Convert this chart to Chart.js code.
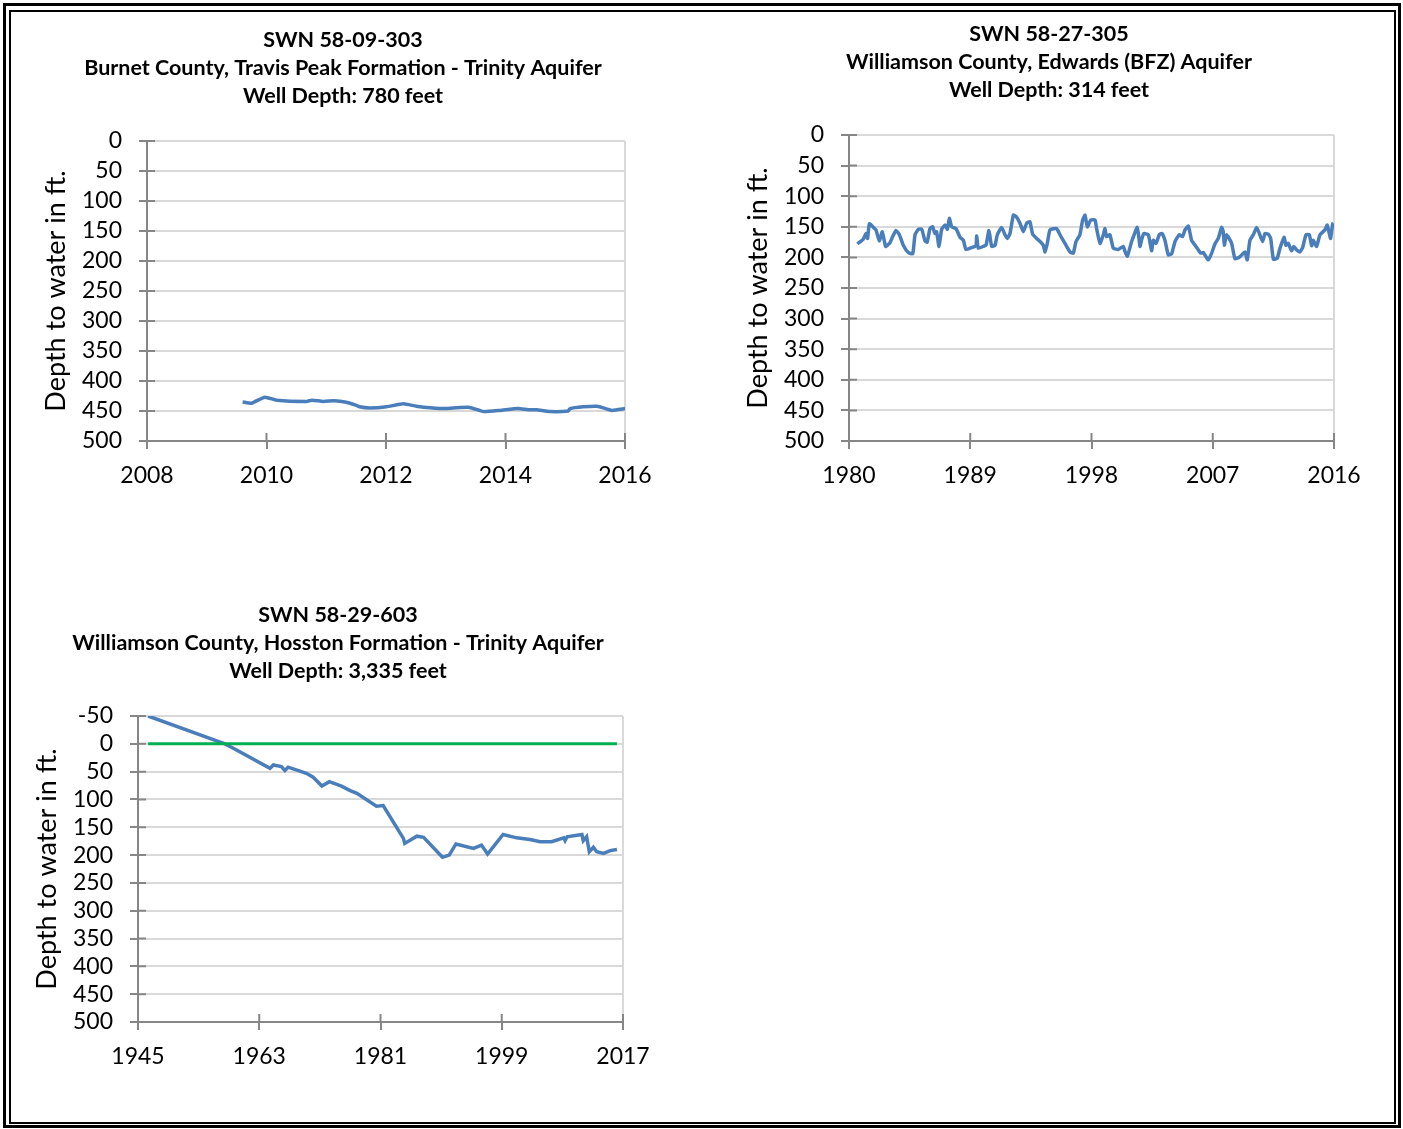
<!DOCTYPE html>
<html>
<head>
<meta charset="utf-8">
<script src="https://cdn.jsdelivr.net/npm/chart.js@4"></script>
<style>
  html, body { margin: 0; padding: 0; background: #fff; }
  body { width: 1403px; height: 1129px; position: relative; overflow: hidden; }
  .frame-out { position: absolute; left: 3px; top: 3px; width: 1392px; height: 1119px; border: 3px solid #000; }
  .frame-in { position: absolute; left: 9px; top: 10px; width: 1383px; height: 1110px; border: 2px solid #000; }
  .box { position: absolute; }
</style>
</head>
<body>
<div class="frame-out"></div>
<div class="frame-in"></div>
<div class="box" style="left:30px; top:20px;"><canvas id="c1" width="626" height="471"></canvas></div>
<div class="box" style="left:732px; top:14px;"><canvas id="c2" width="634" height="477"></canvas></div>
<div class="box" style="left:21px; top:595px;"><canvas id="c3" width="634" height="477"></canvas></div>
<script>
// ---- data: [year, depth to water (ft)] ----
const burnetYears = [2009.6, 2009.75, 2009.97, 2010.17, 2010.67, 2010.76, 2010.95, 2011.12, 2011.26, 2011.4, 2011.56, 2011.73, 2012.01, 2012.29, 2012.51, 2012.9, 2013.13, 2013.4, 2013.63, 2013.91, 2014.21, 2014.38, 2014.52, 2014.74, 2015.05, 2015.08, 2015.3, 2015.53, 2015.61, 2015.78, 2016.0];
const burnetDepth = [435, 437, 427, 432, 434, 432, 434, 433, 434, 437, 443, 445, 443, 438, 442, 446, 445, 444, 451, 449, 446, 448, 448, 451, 450, 446, 443, 442, 444, 449, 446];

const wilsonYears = [1980.62, 1981.06, 1981.26, 1981.38, 1981.51, 1981.81, 1982.0, 1982.25, 1982.47, 1982.72, 1983.04, 1983.24, 1983.49, 1983.74, 1984.03, 1984.4, 1984.73, 1984.9, 1985.15, 1985.4, 1985.64, 1985.8, 1986.01, 1986.21, 1986.38, 1986.5, 1986.68, 1986.88, 1987.13, 1987.3, 1987.45, 1987.62, 1987.94, 1988.24, 1988.49, 1988.68, 1989.1, 1989.42, 1989.48, 1989.6, 1989.97, 1990.17, 1990.39, 1990.59, 1990.84, 1991.01, 1991.33, 1991.58, 1991.75, 1991.95, 1992.2, 1992.4, 1992.69, 1992.94, 1993.19, 1993.43, 1993.63, 1993.93, 1994.18, 1994.42, 1994.55, 1994.72, 1994.92, 1995.41, 1995.66, 1996.03, 1996.4, 1996.65, 1996.85, 1997.14, 1997.34, 1997.52, 1997.69, 1997.94, 1998.26, 1998.38, 1998.63, 1998.88, 1999.0, 1999.12, 1999.37, 1999.62, 1999.99, 2000.36, 2000.48, 2000.66, 2000.98, 2001.4, 2001.6, 2001.72, 2001.89, 2002.22, 2002.46, 2002.59, 2002.79, 2003.03, 2003.23, 2003.45, 2003.7, 2003.95, 2004.2, 2004.52, 2004.76, 2004.94, 2005.19, 2005.43, 2005.75, 2006.1, 2006.3, 2006.5, 2006.67, 2006.92, 2007.16, 2007.41, 2007.66, 2007.78, 2007.86, 2008.03, 2008.4, 2008.65, 2009.02, 2009.39, 2009.56, 2009.76, 2010.01, 2010.26, 2010.46, 2010.7, 2010.88, 2011.12, 2011.3, 2011.5, 2011.79, 2011.99, 2012.29, 2012.43, 2012.6, 2012.85, 2013.02, 2013.23, 2013.47, 2013.67, 2013.92, 2014.17, 2014.34, 2014.46, 2014.71, 2014.96, 2015.33, 2015.5, 2015.65, 2015.75, 2015.9, 2015.95];
const wilsonDepth = [178, 170, 161, 169, 145, 151, 155, 173, 158, 182, 176, 166, 156, 163, 180, 192, 194, 163, 154, 154, 173, 175, 153, 150, 161, 158, 182, 154, 147, 154, 136, 150, 153, 167, 172, 187, 184, 181, 165, 185, 182, 180, 156, 182, 180, 163, 151, 163, 169, 161, 131, 133, 144, 158, 144, 142, 162, 169, 174, 180, 191, 177, 155, 153, 163, 177, 191, 193, 174, 163, 139, 131, 150, 139, 139, 153, 177, 163, 153, 166, 163, 185, 187, 182, 190, 198, 174, 151, 182, 171, 161, 163, 189, 172, 177, 163, 161, 172, 196, 194, 174, 163, 166, 155, 149, 172, 182, 193, 192, 199, 204, 193, 178, 169, 151, 158, 180, 163, 177, 202, 199, 191, 204, 172, 163, 151, 161, 174, 161, 162, 169, 203, 201, 185, 167, 180, 177, 189, 182, 188, 191, 184, 163, 163, 181, 172, 182, 163, 155, 147, 161, 169, 145, 144];

const hosstonYears = [1946.5, 1957.7, 1959.15, 1964.6, 1965.1, 1966.3, 1966.8, 1967.3, 1970.0, 1971.0, 1972.3, 1973.4, 1975.2, 1976.5, 1977.5, 1980.4, 1981.4, 1984.4, 1984.6, 1986.4, 1987.4, 1990.2, 1991.2, 1992.2, 1994.8, 1996.0, 1996.9, 1999.2, 2001.2, 2003.2, 2004.7, 2006.4, 2008.2, 2008.4, 2008.7, 2010.9, 2011.1, 2011.6, 2012.0, 2012.6, 2013.1, 2014.1, 2015.1, 2016.1];
const hosstonDepth = [-50, -1, 8, 44, 38, 41, 48, 42, 53, 60, 76, 68, 76, 84, 89, 112, 111, 170, 179, 166, 168, 204, 200, 180, 188, 182, 198, 163, 169, 172, 176, 176, 169, 174, 167, 163, 174, 167, 194, 186, 194, 197, 192, 190];
const surfaceYears = [1946.5, 2016.1];
const surfaceDepth = [0, 0];

const titles1 = ['SWN 58-09-303', 'Burnet County, Travis Peak Formation - Trinity Aquifer', 'Well Depth: 780 feet'];
const titles2 = ['SWN 58-27-305', 'Williamson County, Edwards (BFZ) Aquifer', 'Well Depth: 314 feet'];
const titles3 = ['SWN 58-29-603', 'Williamson County, Hosston Formation - Trinity Aquifer', 'Well Depth: 3,335 feet'];
const yTitle = 'Depth to water in ft.';

const FONT = 'Lato, Calibri, "Open Sans", sans-serif';
const AXIS = '#868686';
const GRID = '#d9d9d9';
const BLUE = '#4a7ebb';
const GREEN = '#00b050';

const pts = (xs, ys) => xs.map((x, i) => ({ x, y: ys[i] }));

// Excel style tick marks that cross the axis: the inner half is drawn here
const crossTicks = {
  id: 'crossTicks',
  beforeDatasetsDraw(chart) {
    const { ctx, chartArea: a, scales: { x, y } } = chart;
    ctx.save();
    ctx.strokeStyle = AXIS;
    ctx.lineWidth = 2;
    ctx.beginPath();
    y.ticks.forEach(t => { const p = y.getPixelForValue(t.value); ctx.moveTo(a.left, p); ctx.lineTo(a.left + 8, p); });
    x.ticks.forEach(t => { const p = x.getPixelForValue(t.value); ctx.moveTo(p, a.bottom); ctx.lineTo(p, a.bottom - 8); });
    ctx.stroke();
    ctx.restore();
  }
};

function makeChart(id, title, datasets, xr, yr, padRight) {
  return new Chart(document.getElementById(id), {
    type: 'line',
    data: { datasets },
    plugins: [crossTicks],
    options: {
      responsive: false,
      devicePixelRatio: 1,
      animation: false,
      plugins: {
        legend: { display: false },
        tooltip: { enabled: false },
        title: {
          display: true, text: title, color: '#000',
          font: { family: FONT, size: 21.5, weight: 'bold', lineHeight: 28 / 21.5 },
          padding: { top: 6, bottom: 31 }
        }
      },
      scales: {
        x: {
          type: 'linear', min: xr[0], max: xr[1],
          afterFit: s => { s.height = 50; s.paddingRight = padRight; },
          ticks: { stepSize: xr[2], padding: 13, autoSkip: false, color: '#000', font: { family: FONT, size: 23 }, callback: v => String(v), maxRotation: 0 },
          grid: {
            drawTicks: true, tickLength: 8, tickColor: AXIS, tickWidth: 2, lineWidth: 2,
            color: c => (c.index === c.chart.scales.x.ticks.length - 1 ? GRID : 'rgba(0,0,0,0)')
          },
          border: { color: AXIS, width: 2 }
        },
        y: {
          type: 'linear', reverse: true, min: yr[0], max: yr[1],
          afterFit: s => { s.width = 117; },
          ticks: { stepSize: 50, padding: 17, autoSkip: false, color: '#000', font: { family: FONT, size: 23 } },
          grid: { color: GRID, lineWidth: 2, drawTicks: true, tickLength: 8, tickColor: AXIS, tickWidth: 2 },
          border: { color: AXIS, width: 2 },
          title: { display: true, text: yTitle, color: '#000', font: { family: FONT, size: 27 }, padding: { top: 10, bottom: 0 } }
        }
      },
      elements: { point: { radius: 0 }, line: { tension: 0.15 } }
    }
  });
}

makeChart('c1', titles1, [
  { data: pts(burnetYears, burnetDepth), borderColor: BLUE, borderWidth: 3.5 }
], [2008, 2016, 2], [0, 500], 31);

makeChart('c2', titles2, [
  { data: pts(wilsonYears, wilsonDepth), borderColor: BLUE, borderWidth: 3.5 }
], [1980, 2016, 9], [0, 500], 32);

makeChart('c3', titles3, [
  { data: pts(surfaceYears, surfaceDepth), borderColor: GREEN, borderWidth: 3, tension: 0 },
  { data: pts(hosstonYears, hosstonDepth), borderColor: BLUE, borderWidth: 3.5, tension: 0 }
], [1945, 2017, 18], [-50, 500], 32);
</script>
</body>
</html>
